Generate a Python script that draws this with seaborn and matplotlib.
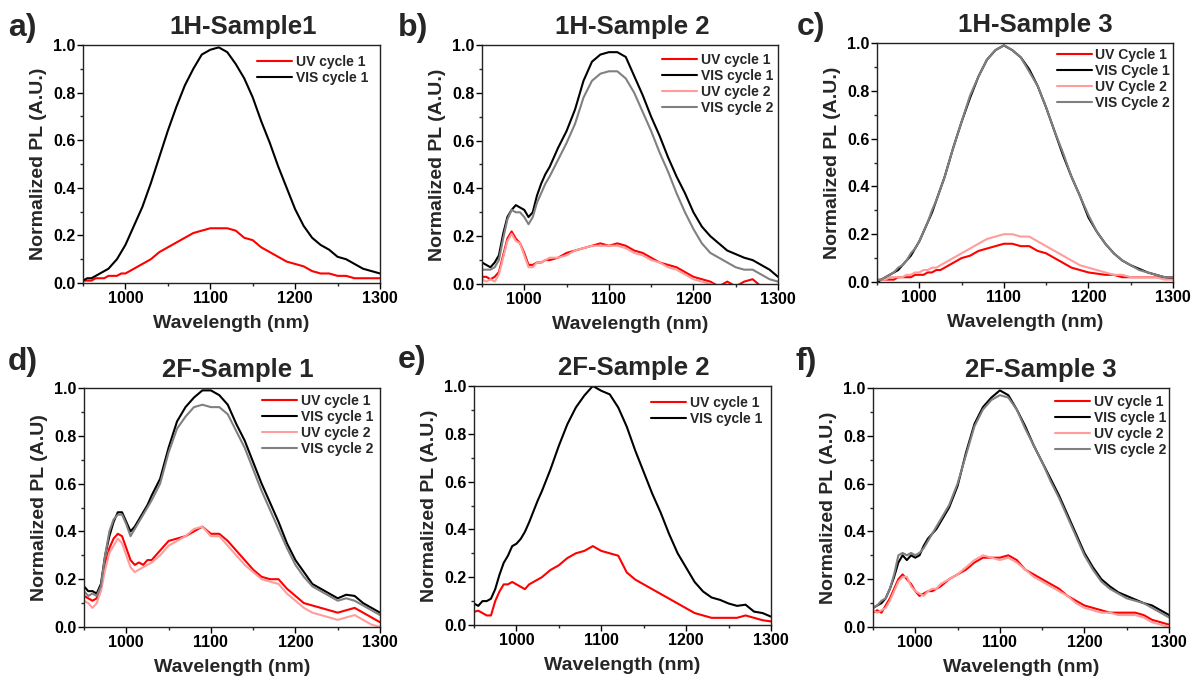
import matplotlib
matplotlib.use("Agg")
import matplotlib.pyplot as plt
import seaborn as sns
from matplotlib.ticker import MultipleLocator

# ---------------- data ----------------
wavelength = [950, 955, 960, 965, 970, 975, 980, 985, 990, 995, 1000, 1005, 1010, 1015, 1020, 1025, 1030,
              1040, 1050, 1060, 1070, 1080, 1090, 1100, 1110, 1120, 1130, 1140, 1150, 1160, 1170, 1180,
              1190, 1200, 1210, 1220, 1230, 1240, 1250, 1260, 1270, 1280, 1290, 1300]

a_uv1 = [0.01, 0.01, 0.01, 0.02, 0.02, 0.02, 0.03, 0.03, 0.03, 0.04, 0.04, 0.05, 0.06, 0.07, 0.08, 0.09, 0.10,
         0.13, 0.15, 0.17, 0.19, 0.21, 0.22, 0.23, 0.23, 0.23, 0.22, 0.19, 0.18, 0.15, 0.13, 0.11, 0.09, 0.08,
         0.07, 0.05, 0.04, 0.04, 0.03, 0.03, 0.02, 0.02, 0.02, 0.02]
a_vis1 = [0.01, 0.02, 0.02, 0.03, 0.04, 0.05, 0.06, 0.08, 0.10, 0.13, 0.16, 0.20, 0.24, 0.28, 0.32, 0.37, 0.42,
          0.53, 0.64, 0.74, 0.83, 0.90, 0.96, 0.98, 0.99, 0.97, 0.92, 0.86, 0.78, 0.68, 0.59, 0.49, 0.40, 0.31,
          0.24, 0.19, 0.16, 0.14, 0.11, 0.10, 0.08, 0.06, 0.05, 0.04]

b_uv1 = [0.03, 0.03, 0.02, 0.03, 0.05, 0.12, 0.19, 0.22, 0.19, 0.17, 0.13, 0.08, 0.08, 0.09, 0.09, 0.10, 0.10,
         0.11, 0.13, 0.14, 0.15, 0.16, 0.17, 0.16, 0.17, 0.16, 0.14, 0.13, 0.11, 0.09, 0.08, 0.07, 0.05, 0.03,
         0.02, 0.01, -0.01, 0.01, -0.01, 0.01, 0.02, -0.01, -0.01, -0.01]
b_vis1 = [0.09, 0.08, 0.07, 0.09, 0.12, 0.21, 0.28, 0.31, 0.33, 0.32, 0.31, 0.28, 0.30, 0.37, 0.42, 0.46, 0.49,
          0.57, 0.64, 0.73, 0.85, 0.93, 0.96, 0.97, 0.97, 0.95, 0.87, 0.79, 0.70, 0.62, 0.53, 0.45, 0.38, 0.30,
          0.24, 0.20, 0.17, 0.14, 0.125, 0.11, 0.10, 0.08, 0.06, 0.03]
b_uv2 = [0.02, 0.01, 0.02, 0.01, 0.04, 0.11, 0.18, 0.21, 0.18, 0.17, 0.12, 0.07, 0.07, 0.09, 0.09, 0.10, 0.11,
         0.11, 0.12, 0.14, 0.15, 0.16, 0.16, 0.16, 0.16, 0.15, 0.13, 0.12, 0.10, 0.09, 0.07, 0.06, 0.04, 0.02,
         0.01, 0.00, -0.01, -0.01, -0.01, -0.01, -0.01, -0.01, -0.01, -0.01]
b_vis2 = [0.06, 0.06, 0.06, 0.07, 0.10, 0.19, 0.27, 0.31, 0.30, 0.30, 0.28, 0.25, 0.28, 0.34, 0.38, 0.42, 0.45,
          0.52, 0.59, 0.67, 0.78, 0.85, 0.88, 0.89, 0.89, 0.86, 0.80, 0.72, 0.64, 0.55, 0.47, 0.38, 0.30, 0.23,
          0.17, 0.13, 0.11, 0.09, 0.07, 0.06, 0.06, 0.04, 0.02, 0.01]

c_uv1 = [0.00, 0.01, 0.01, 0.01, 0.01, 0.02, 0.02, 0.02, 0.02, 0.03, 0.03, 0.03, 0.04, 0.04, 0.05, 0.05, 0.06,
         0.08, 0.10, 0.11, 0.13, 0.14, 0.15, 0.16, 0.16, 0.15, 0.15, 0.13, 0.12, 0.10, 0.08, 0.06, 0.05, 0.04,
         0.035, 0.03, 0.03, 0.02, 0.02, 0.02, 0.02, 0.02, 0.02, 0.02]
c_vis1 = [0.00, 0.01, 0.02, 0.03, 0.04, 0.05, 0.07, 0.09, 0.11, 0.14, 0.17, 0.21, 0.25, 0.29, 0.34, 0.39, 0.44,
          0.56, 0.67, 0.77, 0.86, 0.93, 0.97, 0.99, 0.97, 0.94, 0.89, 0.82, 0.73, 0.63, 0.53, 0.44, 0.36, 0.27,
          0.21, 0.16, 0.12, 0.09, 0.07, 0.055, 0.04, 0.03, 0.02, 0.015]
c_uv2 = [0.01, 0.01, 0.01, 0.02, 0.02, 0.02, 0.02, 0.03, 0.03, 0.04, 0.04, 0.05, 0.05, 0.06, 0.06, 0.07, 0.08,
         0.10, 0.12, 0.14, 0.16, 0.18, 0.19, 0.20, 0.20, 0.19, 0.19, 0.17, 0.15, 0.13, 0.11, 0.09, 0.07, 0.06,
         0.05, 0.04, 0.03, 0.03, 0.02, 0.02, 0.02, 0.02, 0.01, 0.01]
c_vis2 = [0.01, 0.01, 0.02, 0.03, 0.04, 0.06, 0.07, 0.09, 0.12, 0.14, 0.17, 0.21, 0.25, 0.30, 0.34, 0.39, 0.44,
          0.56, 0.67, 0.78, 0.86, 0.93, 0.97, 0.99, 0.97, 0.94, 0.88, 0.82, 0.73, 0.63, 0.54, 0.44, 0.36, 0.28,
          0.21, 0.16, 0.12, 0.09, 0.07, 0.05, 0.04, 0.03, 0.02, 0.02]

d_uv1 = [0.13, 0.12, 0.11, 0.12, 0.16, 0.26, 0.33, 0.37, 0.39, 0.38, 0.33, 0.28, 0.26, 0.27, 0.26, 0.28, 0.28,
         0.32, 0.36, 0.37, 0.38, 0.40, 0.42, 0.39, 0.39, 0.36, 0.32, 0.28, 0.24, 0.21, 0.20, 0.20, 0.16, 0.13,
         0.10, 0.09, 0.08, 0.07, 0.06, 0.07, 0.08, 0.06, 0.04, 0.02]
d_vis1 = [0.17, 0.15, 0.15, 0.14, 0.18, 0.30, 0.38, 0.44, 0.48, 0.48, 0.44, 0.40, 0.42, 0.45, 0.48, 0.51, 0.55,
          0.62, 0.75, 0.86, 0.92, 0.96, 0.99, 0.99, 0.97, 0.93, 0.85, 0.78, 0.69, 0.60, 0.52, 0.44, 0.35, 0.28,
          0.23, 0.18, 0.16, 0.14, 0.12, 0.135, 0.13, 0.10, 0.08, 0.06]
d_uv2 = [0.11, 0.10, 0.08, 0.10, 0.15, 0.24, 0.31, 0.34, 0.37, 0.35, 0.30, 0.25, 0.23, 0.24, 0.25, 0.26, 0.27,
         0.30, 0.34, 0.36, 0.38, 0.41, 0.42, 0.38, 0.38, 0.34, 0.30, 0.26, 0.23, 0.20, 0.19, 0.18, 0.14, 0.11,
         0.08, 0.06, 0.05, 0.04, 0.03, 0.04, 0.05, 0.03, 0.01, 0.00]
d_vis2 = [0.15, 0.13, 0.14, 0.13, 0.17, 0.30, 0.40, 0.45, 0.47, 0.47, 0.43, 0.38, 0.41, 0.44, 0.47, 0.50, 0.53,
          0.60, 0.73, 0.83, 0.88, 0.92, 0.93, 0.92, 0.92, 0.89, 0.82, 0.75, 0.66, 0.57, 0.49, 0.41, 0.33, 0.26,
          0.21, 0.17, 0.15, 0.13, 0.11, 0.12, 0.11, 0.09, 0.07, 0.05]

e_uv1 = [0.055, 0.06, 0.05, 0.04, 0.04, 0.10, 0.14, 0.17, 0.17, 0.18, 0.17, 0.16, 0.15, 0.17, 0.18, 0.19, 0.20,
         0.23, 0.25, 0.28, 0.30, 0.31, 0.33, 0.31, 0.30, 0.29, 0.22, 0.19, 0.17, 0.15, 0.13, 0.11, 0.09, 0.07,
         0.05, 0.04, 0.03, 0.03, 0.03, 0.03, 0.04, 0.03, 0.02, 0.015]
e_vis1 = [0.09, 0.08, 0.10, 0.10, 0.11, 0.15, 0.21, 0.26, 0.29, 0.33, 0.34, 0.36, 0.39, 0.43, 0.475, 0.52, 0.56,
          0.65, 0.75, 0.84, 0.91, 0.96, 1.00, 0.98, 0.965, 0.91, 0.83, 0.73, 0.64, 0.55, 0.47, 0.38, 0.30, 0.24,
          0.18, 0.14, 0.115, 0.105, 0.09, 0.08, 0.085, 0.056, 0.05, 0.035]

f_uv1 = [0.06, 0.07, 0.06, 0.09, 0.12, 0.16, 0.20, 0.22, 0.20, 0.18, 0.15, 0.13, 0.14, 0.15, 0.15, 0.16, 0.17,
         0.20, 0.22, 0.24, 0.27, 0.29, 0.29, 0.29, 0.30, 0.28, 0.24, 0.22, 0.20, 0.18, 0.16, 0.13, 0.11, 0.09,
         0.08, 0.07, 0.06, 0.06, 0.06, 0.06, 0.05, 0.03, 0.02, 0.01]
f_vis1 = [0.08, 0.09, 0.10, 0.12, 0.16, 0.21, 0.27, 0.30, 0.28, 0.30, 0.29, 0.30, 0.34, 0.37, 0.39, 0.41, 0.44,
          0.50, 0.59, 0.73, 0.85, 0.92, 0.96, 0.99, 0.97, 0.91, 0.84, 0.76, 0.69, 0.62, 0.55, 0.47, 0.39, 0.31,
          0.25, 0.20, 0.17, 0.145, 0.13, 0.115, 0.10, 0.09, 0.07, 0.05]
f_uv2 = [0.07, 0.06, 0.07, 0.08, 0.11, 0.15, 0.19, 0.21, 0.21, 0.17, 0.15, 0.14, 0.13, 0.15, 0.16, 0.16, 0.18,
         0.20, 0.22, 0.25, 0.28, 0.30, 0.29, 0.28, 0.29, 0.27, 0.24, 0.21, 0.19, 0.17, 0.15, 0.13, 0.10, 0.08,
         0.07, 0.06, 0.06, 0.05, 0.05, 0.05, 0.04, 0.02, 0.01, 0.00]
f_vis2 = [0.08, 0.09, 0.11, 0.12, 0.16, 0.22, 0.30, 0.31, 0.30, 0.31, 0.30, 0.31, 0.33, 0.36, 0.39, 0.42, 0.45,
          0.51, 0.60, 0.72, 0.84, 0.91, 0.95, 0.97, 0.96, 0.91, 0.83, 0.76, 0.69, 0.61, 0.54, 0.46, 0.38, 0.30,
          0.24, 0.19, 0.16, 0.14, 0.12, 0.11, 0.10, 0.08, 0.06, 0.04]

titles = ["1H-Sample1", "1H-Sample 2", "1H-Sample 3", "2F-Sample 1", "2F-Sample 2", "2F-Sample 3"]
letters = ["a)", "b)", "c)", "d)", "e)", "f)"]
ylabels = ["Normalized PL (A.U.)", "Normalized PL (A.U.)", "Normalized PL (A.U.)",
           "Normalized PL (A.U)", "Normalized PL (A.U.)", "Normalized PL (A.U.)"]
labels_lower = ["UV cycle 1", "VIS cycle 1", "UV cycle 2", "VIS cycle 2"]
labels_upper = ["UV Cycle 1", "VIS Cycle 1", "UV Cycle 2", "VIS Cycle 2"]
panel_series = [
    [a_uv1, a_vis1],
    [b_uv1, b_vis1, b_uv2, b_vis2],
    [c_uv1, c_vis1, c_uv2, c_vis2],
    [d_uv1, d_vis1, d_uv2, d_vis2],
    [e_uv1, e_vis1],
    [f_uv1, f_vis1, f_uv2, f_vis2],
]
panel_labels = [labels_lower, labels_lower, labels_upper, labels_lower, labels_lower, labels_lower]
colors = ["#ff0000", "#000000", "#ff9c9c", "#808080"]

# ---------------- layout (pixels in a 1193x683 figure) ----------------
W, H = 1193, 683
axes_px = [(83, 45, 380, 283), (482, 45, 778, 284), (877, 43, 1173, 282),
           (84, 388, 380, 627), (474, 386, 771, 625), (873, 388, 1169, 627)]
title_x_px = [243, 632, 1035, 238, 634, 1041]
letter_px = [(8, 28), (398, 28), (797, 27), (8, 362), (398, 360), (795, 362)]
legend_gap = [(12, 18), (5, 16), (3, 13), (7, 14), (9, 18), (3, 15)]

sns.set_style("ticks")
plt.rcParams["font.family"] = ["Liberation Sans", "DejaVu Sans"]
plt.rcParams["font.weight"] = "bold"
plt.rcParams["axes.labelweight"] = "bold"
plt.rcParams["axes.titleweight"] = "bold"

fig = plt.figure(figsize=(W / 100, H / 100), dpi=100)
fig.patch.set_facecolor("white")

for i in range(6):
    l, t, r, b = axes_px[i]
    ax = fig.add_axes([l / W, 1 - b / H, (r - l) / W, (b - t) / H])
    for series, lbl, col in zip(panel_series[i], panel_labels[i], colors):
        sns.lineplot(x=wavelength, y=series, ax=ax, color=col, linewidth=1.5, label=lbl)
    ax.set_xlim(950, 1300)
    ax.set_ylim(0, 1.0)
    ax.xaxis.set_minor_locator(MultipleLocator(50))
    ax.yaxis.set_major_locator(MultipleLocator(0.2))
    ax.yaxis.set_minor_locator(MultipleLocator(0.1))
    ax.set_xticks([1000, 1100, 1200, 1300])
    ax.yaxis.set_major_formatter(matplotlib.ticker.FormatStrFormatter("%.1f"))
    ax.tick_params(which="major", direction="out", length=4, width=1, labelsize=11.5, pad=1.5, colors="black")
    ax.tick_params(which="minor", direction="out", length=2.5, width=1)
    for sp in ax.spines.values():
        sp.set_visible(True)
        sp.set_linewidth(1.0)
        sp.set_color("#222222")
    ax.set_xlabel("Wavelength (nm)", fontsize=14, fontweight="bold")
    ax.set_ylabel(ylabels[i], fontsize=14, fontweight="bold")
    ax.xaxis.set_label_coords(0.5, -0.135)
    ax.yaxis.set_label_coords(-0.12, 0.5)
    ax.set_title(titles[i], fontsize=18.5, fontweight="bold", x=(title_x_px[i] - l) / (r - l), pad=8)
    gx, gy = legend_gap[i]
    ax.legend(loc="upper right",
              bbox_to_anchor=(1 - gx / (r - l), 1 - (gy - 8) / (b - t)),
              frameon=False, fontsize=10, handlelength=2.5, handletextpad=0.25,
              labelspacing=0.15, borderaxespad=0, borderpad=0)
    lx, ly = letter_px[i]
    fig.text(lx / W, 1 - ly / H, letters[i], fontsize=23, fontweight="bold", ha="left", va="center")

fig.savefig("out.png", dpi=100, facecolor="white")
